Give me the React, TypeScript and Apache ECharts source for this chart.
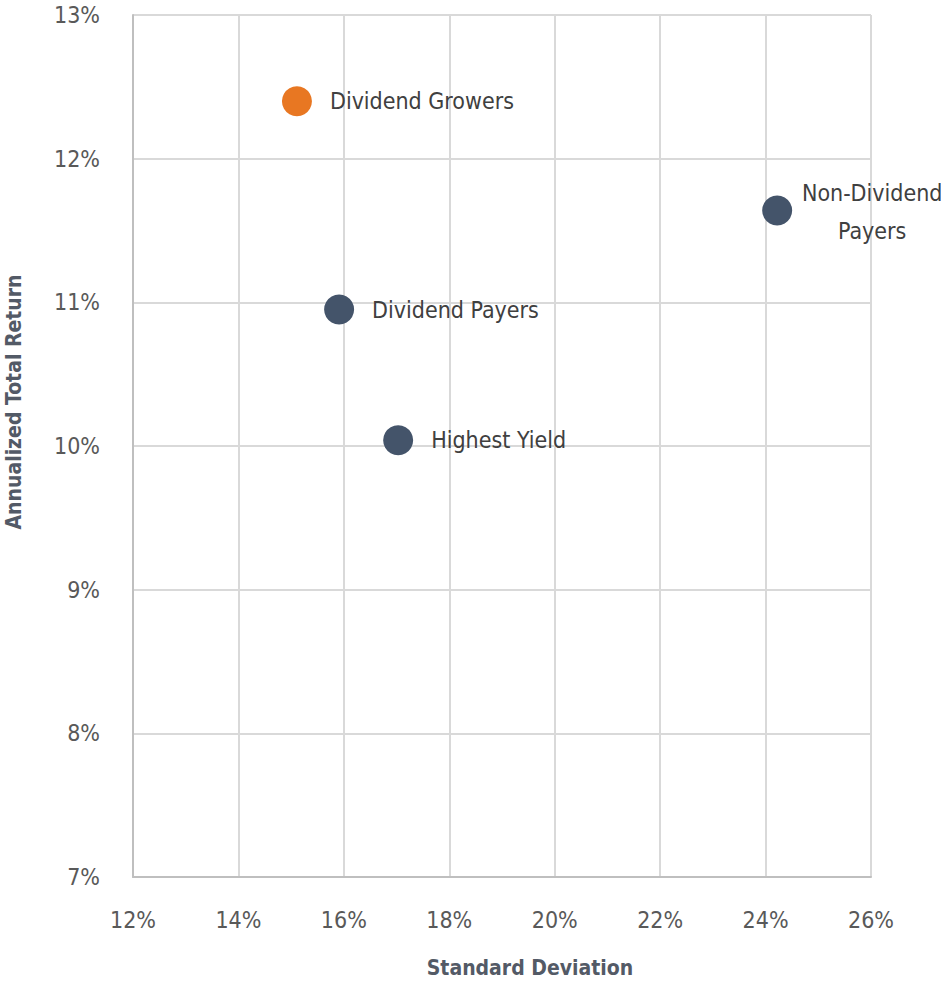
import React, { useEffect, useRef } from "react";
import * as echarts from "echarts";

const names = ["Dividend Growers", "Non-Dividend Payers", "Dividend Payers", "Highest Yield"];
const labels = ["Dividend Growers", "Non-Dividend\nPayers", "Dividend Payers", "Highest Yield"];
const stdDev = [15.11, 24.22, 15.91, 17.03];
const totalReturn = [12.4, 11.64, 10.95, 10.04];
const colors = ["#E87722", "#44546A", "#44546A", "#44546A"];

const FONT = "'DejaVu Sans Condensed', 'Liberation Sans Narrow', sans-serif";

export default function App() {
  const ref = useRef<HTMLDivElement>(null);
  useEffect(() => {
    if (!ref.current) return;
    const chart = echarts.init(ref.current, undefined, { renderer: "svg" });
    const data = names.map((n, i) => {
      const item: any = {
        name: n,
        value: [stdDev[i], totalReturn[i]],
        itemStyle: { color: colors[i], opacity: 1 },
      };
      if (i === 1) {
        item.label = {
          position: "inside",
          align: "center",
          offset: [95, 2],
          lineHeight: 38,
        };
      }
      return item;
    });
    chart.setOption({
      animation: false,
      grid: { left: 133, right: 70, top: 15, bottom: 105, containLabel: false },
      xAxis: {
        type: "value",
        min: 12,
        max: 26,
        interval: 2,
        axisLine: { show: true, lineStyle: { color: "#BFBFBF", width: 2 } },
        axisTick: { show: false },
        splitLine: { show: true, lineStyle: { color: "#D9D9D9", width: 2 } },
        axisLabel: {
          formatter: "{value}%",
          color: "#595959",
          fontSize: 23,
          fontFamily: FONT,
          margin: 31,
        },
      },
      yAxis: {
        type: "value",
        min: 7,
        max: 13,
        interval: 1,
        axisLine: { show: true, lineStyle: { color: "#BFBFBF", width: 2 } },
        axisTick: { show: false },
        splitLine: { show: true, lineStyle: { color: "#D9D9D9", width: 2 } },
        axisLabel: {
          formatter: "{value}%",
          color: "#595959",
          fontSize: 23,
          fontFamily: FONT,
          margin: 33,
        },
      },
      graphic: [
        {
          type: "text",
          x: 530,
          y: 968,
          style: {
            text: "Standard Deviation",
            fill: "#535A66",
            font: `bold 21px ${FONT}`,
            align: "center",
            verticalAlign: "middle",
          },
        },
        {
          type: "text",
          x: 14,
          y: 402,
          rotation: Math.PI / 2,
          style: {
            text: "Annualized Total Return",
            fill: "#535A66",
            font: `bold 21px ${FONT}`,
            align: "center",
            verticalAlign: "middle",
          },
        },
      ],
      series: [
        {
          type: "scatter",
          symbolSize: 30,
          data,
          label: {
            show: true,
            position: "right",
            distance: 18,
            formatter: (p: any) => labels[p.dataIndex],
            color: "#404040",
            fontSize: 23,
            fontFamily: FONT,
          },
        },
      ],
    });
    return () => chart.dispose();
  }, []);
  return (
    <div
      ref={ref}
      style={{ position: "absolute", left: 0, top: 0, width: 941, height: 982 }}
    />
  );
}
